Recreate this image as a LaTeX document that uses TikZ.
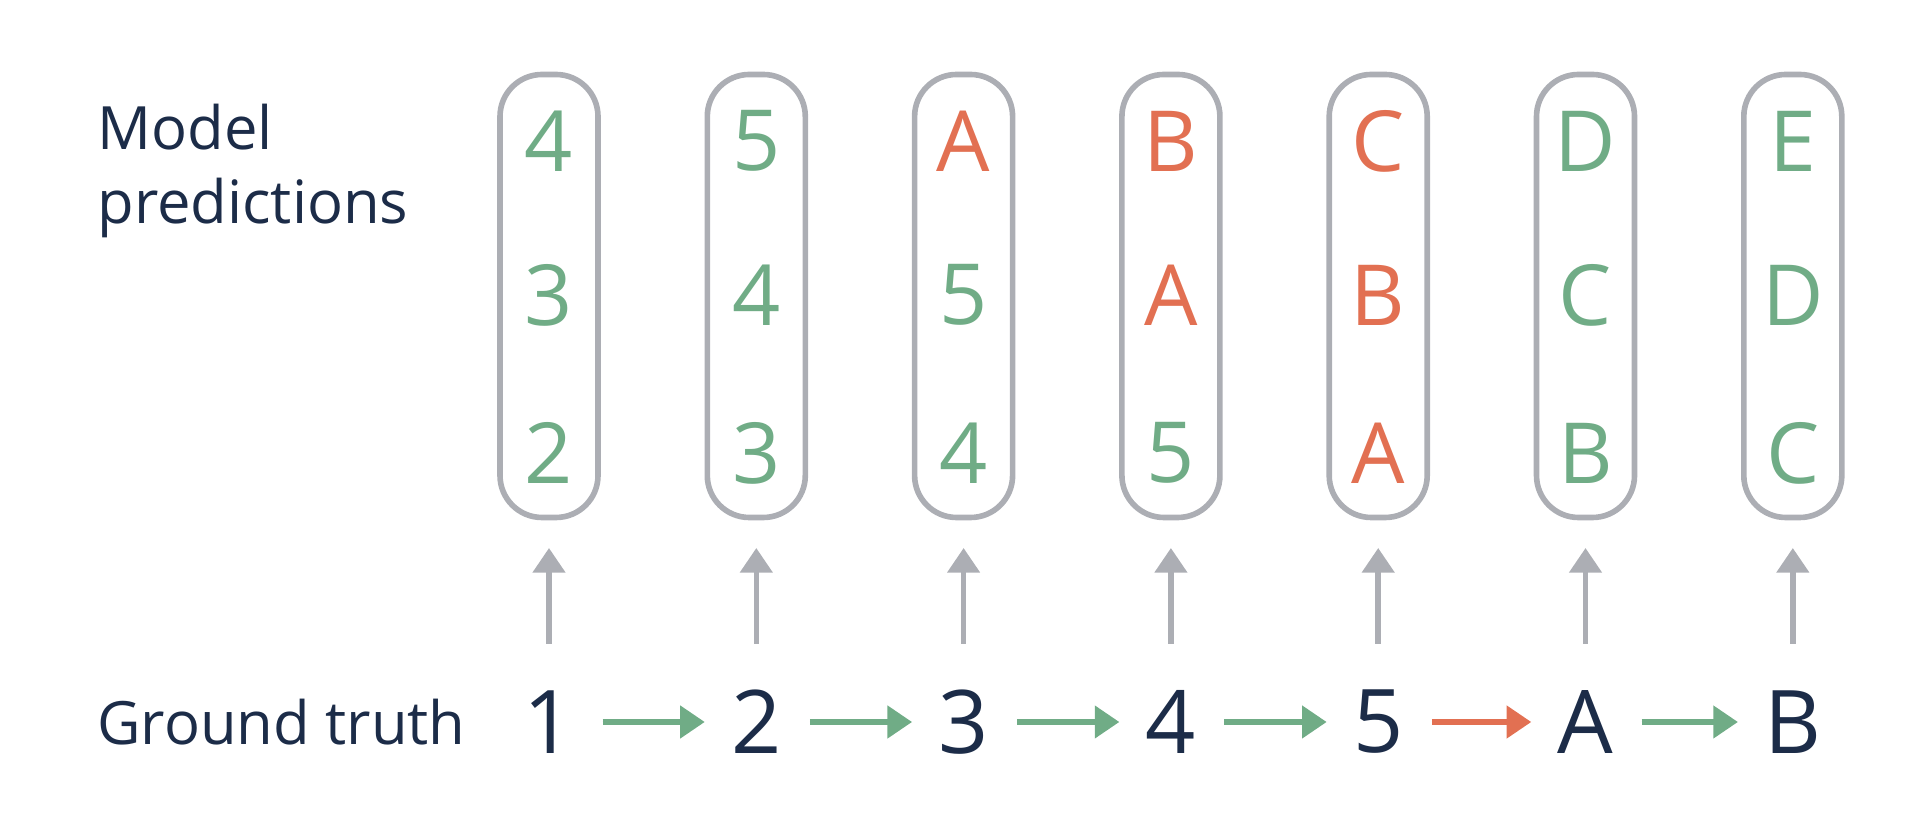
\documentclass[tikz,border=0pt]{standalone}
\usepackage{fontspec}
\setmainfont{Open Sans}
\usepackage{tikz}
\definecolor{predgreen}{RGB}{112,172,134}
\definecolor{predorange}{RGB}{226,112,82}
\definecolor{boxgray}{RGB}{172,174,180}
\definecolor{textnavy}{RGB}{28,44,72}
\usetikzlibrary{arrows.meta,positioning}

\begin{document}
\begin{tikzpicture}[
    predbox/.style={rectangle, draw=boxgray, line width=1.6pt, rounded corners=0.42cm, minimum width=0.98cm, minimum height=4.43cm},
    predtext/.style={font=\fontsize{24}{28}\selectfont},
    truthtext/.style={font=\fontsize{25}{30}\selectfont, text=textnavy},
    labeltext/.style={font=\fontsize{17}{21}\selectfont, text=textnavy, align=left, anchor=west},
    uparrow/.style={-{Triangle[length=7pt,width=9pt]}, draw=boxgray, line width=1.6pt},
    nextarrow/.style={-{Triangle[length=7pt,width=9pt]}, line width=1.6pt, shorten <=0.16cm, shorten >=0.14cm}
]
\useasboundingbox (0,0) rectangle (19.2,8.26);

\node[labeltext] (modellabel) at (0.85,6.55) {Model\\predictions};
\node[labeltext] (truthlabel) at (0.85,1.04) {Ground truth};

% columns: ground truth, top, middle, bottom predictions
\foreach \i/\g/\ta/\ca/\tb/\cb/\tc/\cc in {
    1/1/4/predgreen/3/predgreen/2/predgreen,
    2/2/5/predgreen/4/predgreen/3/predgreen,
    3/3/A/predorange/5/predgreen/4/predgreen,
    4/4/B/predorange/A/predorange/5/predgreen,
    5/5/C/predorange/B/predorange/A/predorange,
    6/A/D/predgreen/C/predgreen/B/predgreen,
    7/B/E/predgreen/D/predgreen/C/predgreen} {
  \pgfmathsetmacro{\x}{5.49+(\i-1)*2.073}
  \node[predbox] (box\i) at (\x,5.3) {};
  \node[predtext, text=\ca] (top\i) at (\x,6.85) {\ta};
  \node[predtext, text=\cb] (mid\i) at (\x,5.31) {\tb};
  \node[predtext, text=\cc] (bot\i) at (\x,3.73) {\tc};
  \node[truthtext] (truth\i) at (\x,1.04) {\g};
  \coordinate (up\i) at (\x,2.78);
  \coordinate (low\i) at (\x,1.82);
  \draw[uparrow] (low\i) -- (up\i);
}

\foreach \i/\j/\c in {1/2/predgreen,2/3/predgreen,3/4/predgreen,4/5/predgreen,5/6/predorange,6/7/predgreen}
  \draw[nextarrow, draw=\c, fill=\c] (truth\i) -- (truth\j);

\end{tikzpicture}
\end{document}
